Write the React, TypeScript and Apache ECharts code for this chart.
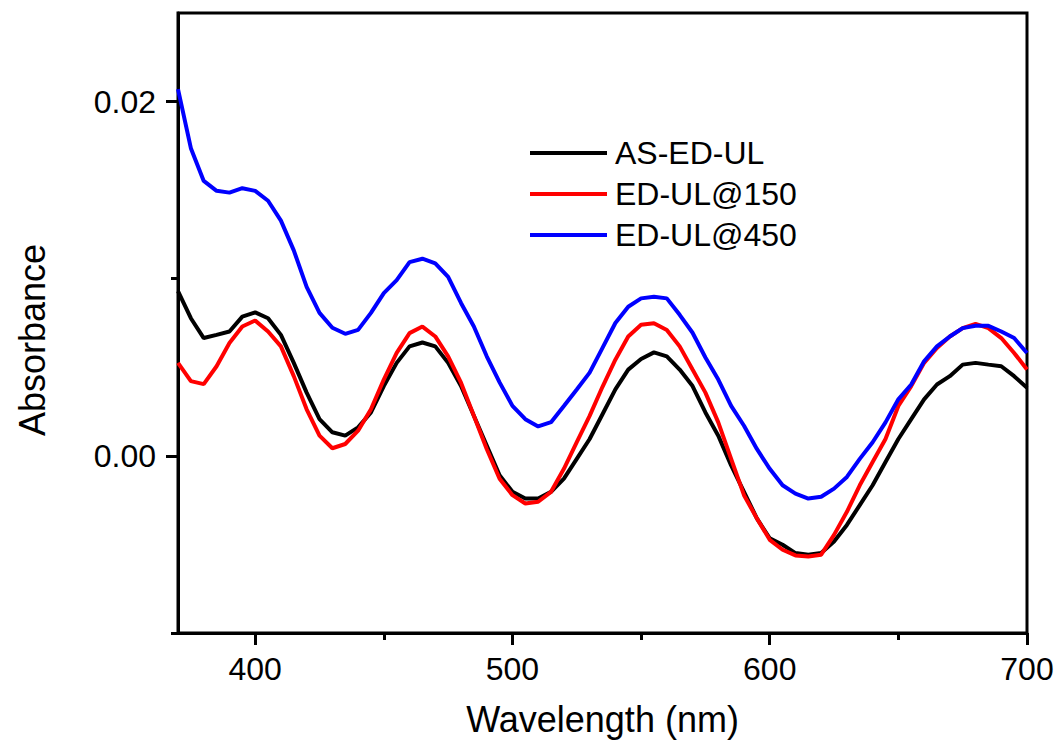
import React, { useEffect, useRef } from "react";
import * as echarts from "echarts";

const wavelengths = [
  370, 375, 380, 385, 390, 395, 400, 405, 410, 415, 420, 425, 430, 435, 440, 445, 450, 455, 460, 465,
  470, 475, 480, 485, 490, 495, 500, 505, 510, 515, 520, 525, 530, 535, 540, 545, 550, 555, 560, 565,
  570, 575, 580, 585, 590, 595, 600, 605, 610, 615, 620, 625, 630, 635, 640, 645, 650, 655, 660, 665,
  670, 675, 680, 685, 690, 695, 700,
];

const asEdUl = [
  0.0093, 0.00777, 0.00665, 0.00683, 0.00702, 0.00786, 0.0081, 0.00777, 0.00683, 0.00525,
  0.00357, 0.00207, 0.00133, 0.00114, 0.00161, 0.00245, 0.00394, 0.00525, 0.00618, 0.0064,
  0.00618, 0.00525, 0.00394, 0.00226, 0.00058, -0.0011, -0.00203, -0.00241, -0.00241, -0.00203,
  -0.00129, -0.00017, 0.00095, 0.00235, 0.00375, 0.00487, 0.00547, 0.00584, 0.00562, 0.00487,
  0.00394, 0.00245, 0.00114, -0.00054, -0.00203, -0.00353, -0.00465, -0.00502, -0.00549, -0.00558,
  -0.00549, -0.00484, -0.0039, -0.00278, -0.00166, -0.00035, 0.00095, 0.00207, 0.00319, 0.00403,
  0.0045, 0.00515, 0.00525, 0.00515, 0.00506, 0.0045, 0.00385,
];

const edUl150 = [
  0.00525, 0.00422, 0.00405, 0.00506, 0.00637, 0.0073, 0.00764, 0.00702, 0.00618, 0.0045,
  0.00263, 0.00114, 0.00043, 0.00067, 0.00142, 0.00263, 0.00431, 0.00581, 0.00693, 0.0073,
  0.00674, 0.00562, 0.00413, 0.00226, 0.00039, -0.00129, -0.00222, -0.00269, -0.00259, -0.00203,
  -0.00073, 0.00077, 0.00226, 0.0039, 0.00543, 0.00674, 0.0074, 0.00749, 0.00711, 0.00618,
  0.00487, 0.00357, 0.00189, -0.00017, -0.00222, -0.00353, -0.00474, -0.0053, -0.00562, -0.00568,
  -0.00558, -0.00446, -0.00316, -0.00166, -0.00035, 0.00095, 0.00282, 0.00394, 0.00525, 0.00609,
  0.00674, 0.00721, 0.00745, 0.00721, 0.00665, 0.00581, 0.00487,
];

const edUl450 = [
  0.0207, 0.01737, 0.01552, 0.01496, 0.01486, 0.01511, 0.01496, 0.0144, 0.01328, 0.0116,
  0.00954, 0.00807, 0.00723, 0.00689, 0.00711, 0.00807, 0.00919, 0.00992, 0.01094, 0.01113,
  0.01087, 0.0101, 0.00863, 0.0073, 0.00562, 0.00415, 0.00282, 0.00207, 0.00166, 0.0019,
  0.00282, 0.00375, 0.0047, 0.0061, 0.0075, 0.00842, 0.00889, 0.00898, 0.00889, 0.00796,
  0.00695, 0.00555, 0.00431, 0.00282, 0.0017, 0.00039, -0.00073, -0.00166, -0.00213, -0.00241,
  -0.00231, -0.00185, -0.00119, -0.00017, 0.00077, 0.00189, 0.00319, 0.00403, 0.00534, 0.00618,
  0.00674, 0.00721, 0.00734, 0.00734, 0.00702, 0.00665, 0.00581,
];

const xMajorTicks = [400, 500, 600, 700];
const xMinorTicks = [450, 550, 650];
const yMajorTicks = [0, 0.02];
const yMinorTicks = [-0.01, 0.01];

const FONT = "'Liberation Sans', Arial, Helvetica, sans-serif";

export default function App() {
  const ref = useRef<HTMLDivElement>(null);

  useEffect(() => {
    document.body.style.margin = "0";
    if (!ref.current) return;
    const chart = echarts.init(ref.current, null, { renderer: "svg" });

    const pair = (vals: number[]) => wavelengths.map((w, i) => [w, vals[i]]);

    const axisLine = { show: true, onZero: false, lineStyle: { color: "#000", width: 3 } };
    const hiddenLine = { show: false, onZero: false };

    chart.setOption({
      animation: false,
      backgroundColor: "#fff",
      textStyle: { fontFamily: FONT },
      grid: {
        left: 178,
        right: 30,
        top: 13,
        bottom: 115,
        show: true,
        borderColor: "#000",
        borderWidth: 3,
        backgroundColor: "transparent",
      },
      legend: {
        left: 530,
        top: 135,
        orient: "vertical",
        icon: "rect",
        itemWidth: 77,
        itemHeight: 4,
        itemGap: 5,
        padding: 0,
        textStyle: { fontSize: 32, color: "#000", fontFamily: FONT, lineHeight: 36, padding: [0, 0, 0, 3] },
        data: ["AS-ED-UL", "ED-UL@150", "ED-UL@450"],
      },
      xAxis: [
        {
          type: "value",
          min: 370,
          max: 700,
          position: "bottom",
          name: "Wavelength (nm)",
          nameLocation: "middle",
          nameGap: 68,
          nameTextStyle: { fontSize: 36, color: "#000", fontFamily: FONT },
          axisLine,
          axisTick: { show: true, customValues: xMajorTicks, length: 12, lineStyle: { color: "#000", width: 3 } },
          axisLabel: {
            customValues: xMajorTicks,
            fontSize: 32,
            color: "#000",
            margin: 20,
            fontFamily: FONT,
          },
          splitLine: { show: false },
        },
        {
          type: "value",
          min: 370,
          max: 700,
          position: "bottom",
          axisLine: hiddenLine,
          axisTick: { show: true, customValues: xMinorTicks, length: 7, lineStyle: { color: "#000", width: 3 } },
          axisLabel: { show: false },
          splitLine: { show: false },
        },
      ],
      yAxis: [
        {
          type: "value",
          min: -0.01,
          max: 0.025,
          position: "left",
          name: "Absorbance",
          nameLocation: "middle",
          nameGap: 128,
          nameTextStyle: { fontSize: 36, color: "#000", fontFamily: FONT, padding: [0, 34, 0, 0] },
          axisLine,
          axisTick: { show: true, customValues: yMajorTicks, length: 12, lineStyle: { color: "#000", width: 3 } },
          axisLabel: {
            customValues: yMajorTicks,
            formatter: (v: number) => v.toFixed(2),
            fontSize: 32,
            color: "#000",
            margin: 22,
            fontFamily: FONT,
          },
          splitLine: { show: false },
        },
        {
          type: "value",
          min: -0.01,
          max: 0.025,
          position: "left",
          axisLine: hiddenLine,
          axisTick: { show: true, customValues: yMinorTicks, length: 7, lineStyle: { color: "#000", width: 3 } },
          axisLabel: { show: false },
          splitLine: { show: false },
        },
      ],
      series: [
        {
          name: "AS-ED-UL",
          type: "line",
          data: pair(asEdUl),
          showSymbol: false,
          lineStyle: { color: "#000000", width: 4 },
          itemStyle: { color: "#000000" },
          z: 3,
        },
        {
          name: "ED-UL@150",
          type: "line",
          data: pair(edUl150),
          showSymbol: false,
          lineStyle: { color: "#ff0000", width: 4 },
          itemStyle: { color: "#ff0000" },
          z: 4,
        },
        {
          name: "ED-UL@450",
          type: "line",
          data: pair(edUl450),
          showSymbol: false,
          lineStyle: { color: "#0000ff", width: 4 },
          itemStyle: { color: "#0000ff" },
          z: 5,
        },
      ],
    });

    return () => chart.dispose();
  }, []);

  return <div ref={ref} style={{ width: 1057, height: 748 }} />;
}
